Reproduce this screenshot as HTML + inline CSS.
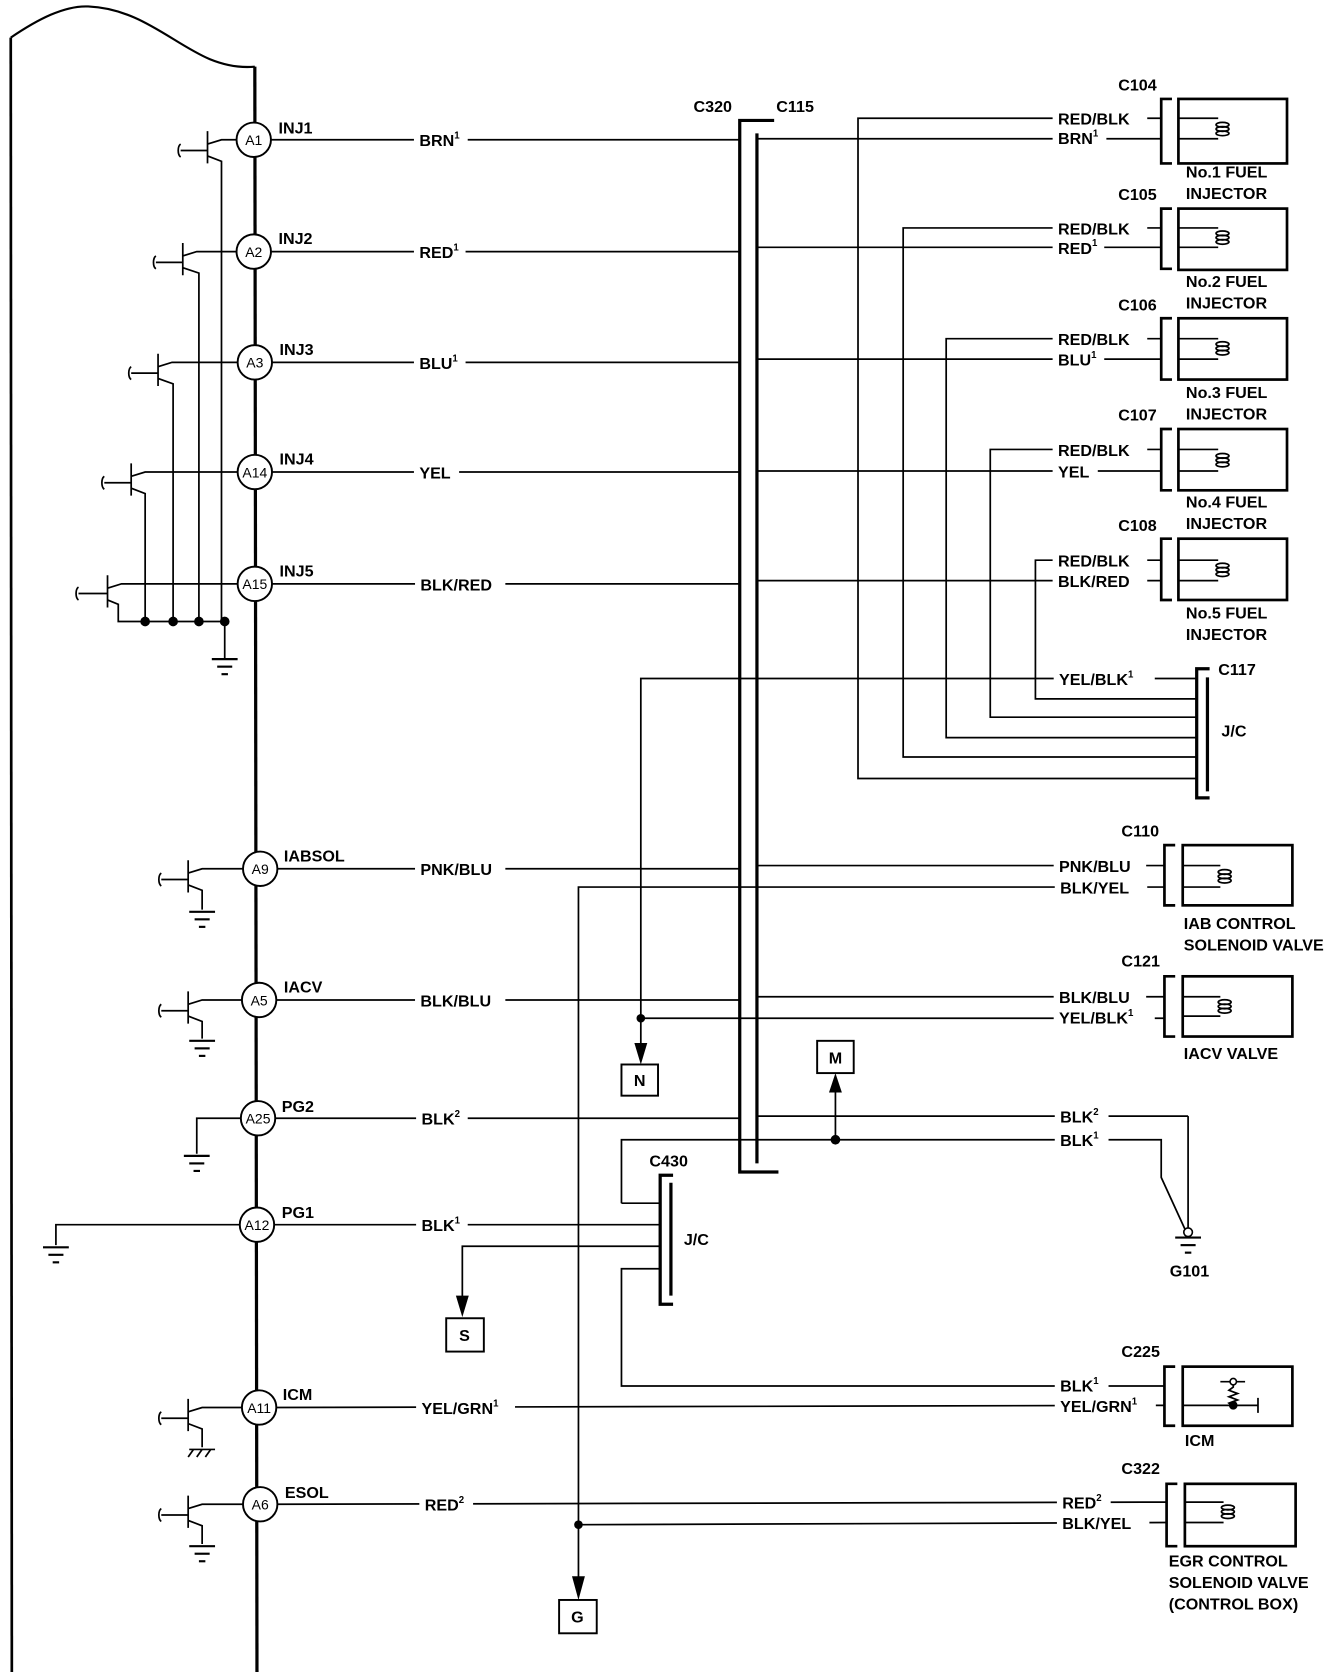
<!DOCTYPE html>
<html><head><meta charset="utf-8"><style>
html,body{margin:0;padding:0;background:#fff}
svg{display:block}
text{font-family:"Liberation Sans",Arial,sans-serif;font-weight:bold;font-size:15px;fill:#000}
.p{font-size:13px;font-weight:normal}
</style></head><body>
<svg width="1344" height="1672" viewBox="0 0 1250 1555" preserveAspectRatio="none" xmlns="http://www.w3.org/2000/svg">
<defs>
<g id="coil" fill="none" stroke="#000" stroke-width="1.6"><ellipse cx="0" cy="-4" rx="6" ry="2.2"/><ellipse cx="0" cy="0" rx="6" ry="2.2"/><ellipse cx="0" cy="4" rx="6" ry="2.2"/></g>
<g id="gnd" stroke="#000" stroke-width="2"><line x1="-12" y1="0" x2="12" y2="0"/><line x1="-7" y1="7" x2="7" y2="7"/><line x1="-3" y1="14" x2="3" y2="14"/></g>
</defs>
<g fill="none" stroke="#000" stroke-width="1.6">
<path d="M10,35 C35,18 60,5 82,6 C130,8 160,40 195,55 C212,62 226,63 237,62" stroke-width="2"/>
<line x1="10" y1="35" x2="11" y2="1555" stroke-width="2.5"/>
<line x1="237" y1="62" x2="239" y2="1555" stroke-width="3"/>

<polyline points="720,112 688,112 688,1090 724,1090" stroke-width="3"/>
<line x1="704" y1="124" x2="704" y2="1082" stroke-width="3"/>

<line x1="252" y1="130" x2="688" y2="130"/>
<line x1="252" y1="234" x2="688" y2="234"/>
<line x1="253" y1="337" x2="688" y2="337"/>
<line x1="253" y1="439" x2="688" y2="439"/>
<line x1="253" y1="543" x2="688" y2="543"/>
<line x1="258" y1="808" x2="688" y2="808"/>
<line x1="257" y1="930" x2="688" y2="930"/>
<line x1="256" y1="1040" x2="688" y2="1040"/>
<line x1="255" y1="1139" x2="614" y2="1139"/>
<line x1="257" y1="1309" x2="1083" y2="1307"/>
<line x1="258" y1="1399" x2="1085" y2="1397"/>

<line x1="704" y1="129" x2="1080" y2="129"/>
<line x1="704" y1="230" x2="1080" y2="230"/>
<line x1="704" y1="334" x2="1080" y2="334"/>
<line x1="704" y1="438" x2="1080" y2="438"/>
<line x1="704" y1="540" x2="1080" y2="540"/>
<line x1="704" y1="805" x2="1083" y2="805"/>
<line x1="704" y1="927" x2="1083" y2="927"/>
<line x1="704" y1="1038" x2="1105" y2="1038"/>
<polyline points="1105,1038 1105,1143"/>
<polyline points="578,1119 578,1060 1080,1060 1080,1095 1102,1143"/>

<polyline points="1080,110 798,110 798,724 1113,724"/>
<polyline points="1080,212 840,212 840,704 1113,704"/>
<polyline points="1080,315 880,315 880,686 1113,686"/>
<polyline points="1080,418 921,418 921,667 1113,667"/>
<polyline points="1080,521 963,521 963,650 1113,650"/>
<polyline points="1113,631 596,631 596,975"/>
<polyline points="1083,947 596,947"/>
<polyline points="1125,622 1113,622 1113,742 1125,742" stroke-width="3"/>
<line x1="1123" y1="630" x2="1123" y2="736" stroke-width="3"/>

<polyline points="1083,825 538,825 538,1472"/>
<polyline points="1085,1416 538,1418"/>

<line x1="777" y1="1060" x2="777" y2="1010"/>

<polyline points="626,1093 614,1093 614,1213 626,1213" stroke-width="3"/>
<line x1="624" y1="1100" x2="624" y2="1205" stroke-width="3"/>
<line x1="578" y1="1119" x2="614" y2="1119"/>
<polyline points="614,1159 430,1159 430,1210"/>
<polyline points="614,1180 578,1180 578,1289 1083,1289"/>

<g stroke-width="2.5">
<polyline points="1090,92 1080,92 1080,152 1090,152"/><rect x="1096" y="92" width="101" height="60"/>
<polyline points="1090,194 1080,194 1080,250 1090,250"/><rect x="1096" y="194" width="101" height="57"/>
<polyline points="1090,296 1080,296 1080,353 1090,353"/><rect x="1096" y="296" width="101" height="57"/>
<polyline points="1090,399 1080,399 1080,456 1090,456"/><rect x="1096" y="399" width="101" height="57"/>
<polyline points="1090,501 1080,501 1080,558 1090,558"/><rect x="1096" y="501" width="101" height="57"/>
<polyline points="1093,786 1083,786 1083,842 1093,842"/><rect x="1100" y="786" width="102" height="56"/>
<polyline points="1093,908 1083,908 1083,964 1093,964"/><rect x="1100" y="908" width="102" height="56"/>
<polyline points="1093,1271 1083,1271 1083,1326 1093,1326"/><rect x="1100" y="1271" width="102" height="55"/>
<polyline points="1095,1380 1085,1380 1085,1438 1095,1438"/><rect x="1102" y="1380" width="103" height="58"/>
</g>
<path d="M1096,110H1133M1096,129H1133 M1096,212H1133M1096,230H1133 M1096,315H1133M1096,334H1133 M1096,418H1133M1096,438H1133 M1096,521H1133M1096,540H1133 M1100,805H1135M1100,825H1135 M1100,927H1135M1100,945H1135 M1102,1397H1138M1102,1416H1138"/>
<path d="M1100,1307H1170M1170,1300V1314M1135,1285H1158M1147,1285V1290l-4,3 8,3-8,3 8,3-8,3 4,3V1307"/>
</g>
<g>
<use href="#coil" x="1137" y="120"/><use href="#coil" x="1137" y="221"/><use href="#coil" x="1137" y="324"/><use href="#coil" x="1137" y="428"/><use href="#coil" x="1137" y="530"/>
<use href="#coil" x="1139" y="815"/><use href="#coil" x="1139" y="936"/><use href="#coil" x="1142" y="1406"/>
</g>
<circle cx="1147" cy="1285" r="3" fill="#fff" stroke="#000" stroke-width="1.5"/>
<circle cx="1147" cy="1307" r="4" fill="#000"/>

<g fill="#000">
<circle cx="596" cy="947" r="4"/><circle cx="777" cy="1060" r="4.5"/><circle cx="538" cy="1418" r="4"/>
<circle cx="135" cy="578" r="4.5"/><circle cx="161" cy="578" r="4.5"/><circle cx="185" cy="578" r="4.5"/><circle cx="209" cy="578" r="4.5"/>
<polygon points="590,970 602,970 596,990"/>
<polygon points="771,1016 783,1016 777,998"/>
<polygon points="424,1205 436,1205 430,1225"/>
<polygon points="532,1466 544,1466 538,1488"/>
</g>
<g fill="#fff" stroke="#000" stroke-width="1.8">
<rect x="578" y="990" width="34" height="29"/><rect x="760" y="968" width="34" height="30"/>
<rect x="415" y="1226" width="35" height="31"/><rect x="520" y="1488" width="35" height="31"/>
</g>

<use href="#gnd" x="1105" y="1151"/>
<circle cx="1105" cy="1146" r="4" fill="#fff" stroke="#000" stroke-width="1.5"/>

<g fill="none" stroke="#000" stroke-width="1.6">
<path d="M193,122V152M168,140H193M193,134L206,130H222M193,145L206,150V578"/>
<path d="M170,226V256M145,244H170M170,238L183,234H222M170,249L185,254V578"/>
<path d="M147,329V359M122,347H147M147,341L160,337H222M147,352L161,357V578"/>
<path d="M122,431V461M97,449H122M122,443L135,439H222M122,454L135,459V578"/>
<path d="M100,535V565M73,552H100M100,547L113,543H222M100,558L110,562V578H209"/>
<line x1="209" y1="578" x2="209" y2="612"/>
<path d="M168,134c-3,2-3,10,0,12M145,238c-3,2-3,10,0,12M122,341c-3,2-3,10,0,12M97,443c-3,2-3,10,0,12M73,546c-3,2-3,10,0,12"/>
<path d="M175,800V830M150,818H175M175,812L188,808H226M175,823L188,828V846"/>
<path d="M175,922V952M150,940H175M175,934L188,930H225M175,945L188,950V966"/>
<path d="M175,1301V1331M150,1319H175M175,1313L188,1309H225M175,1324L188,1329V1346"/>
<path d="M175,1391V1421M150,1409H175M175,1403L188,1399H226M175,1414L188,1419V1436"/>
<path d="M150,812c-3,2-3,10,0,12M150,934c-3,2-3,10,0,12M150,1313c-3,2-3,10,0,12M150,1403c-3,2-3,10,0,12"/>
<path d="M224,1040H183V1073M223,1139H52V1158"/>
<path d="M176,1348H200M180,1348l-5,7M188,1348l-5,7M196,1348l-5,7"/>
</g>
<use href="#gnd" x="209" y="613"/><use href="#gnd" x="188" y="848"/><use href="#gnd" x="188" y="968"/>
<use href="#gnd" x="183" y="1075"/><use href="#gnd" x="52" y="1160"/><use href="#gnd" x="188" y="1438"/>

<g fill="#fff" stroke="#000" stroke-width="1.8">
<circle cx="236" cy="130" r="16"/><circle cx="236" cy="234" r="16"/><circle cx="237" cy="337" r="16"/>
<circle cx="237" cy="439" r="16"/><circle cx="237" cy="543" r="16"/><circle cx="242" cy="808" r="16"/>
<circle cx="241" cy="930" r="16"/><circle cx="240" cy="1040" r="16"/><circle cx="239" cy="1139" r="16"/>
<circle cx="241" cy="1309" r="16"/><circle cx="242" cy="1399" r="16"/>
</g>
<g text-anchor="middle">
<text x="236" y="135" class="p">A1</text><text x="236" y="239" class="p">A2</text><text x="237" y="342" class="p">A3</text>
<text x="237" y="444" class="p">A14</text><text x="237" y="548" class="p">A15</text><text x="242" y="813" class="p">A9</text>
<text x="241" y="935" class="p">A5</text><text x="240" y="1045" class="p">A25</text><text x="239" y="1144" class="p">A12</text>
<text x="241" y="1314" class="p">A11</text><text x="242" y="1404" class="p">A6</text>
</g>

<text x="259" y="124">INJ1</text><text x="259" y="227">INJ2</text><text x="260" y="330">INJ3</text>
<text x="260" y="432">INJ4</text><text x="260" y="536">INJ5</text><text x="264" y="801">IABSOL</text>
<text x="264" y="923">IACV</text><text x="262" y="1034">PG2</text><text x="262" y="1133">PG1</text>
<text x="263" y="1302">ICM</text><text x="265" y="1393">ESOL</text>

<!-- white gaps behind wire labels -->
<g fill="#fff">
<rect x="385" y="122" width="50" height="16"/><rect x="385" y="226" width="48" height="16"/>
<rect x="385" y="329" width="48" height="16"/><rect x="385" y="431" width="42" height="16"/>
<rect x="386" y="535" width="84" height="16"/><rect x="386" y="800" width="84" height="16"/>
<rect x="386" y="922" width="84" height="16"/><rect x="387" y="1032" width="48" height="16"/>
<rect x="387" y="1131" width="48" height="16"/><rect x="387" y="1301" width="92" height="16"/>
<rect x="390" y="1391" width="50" height="16"/>
<rect x="979" y="102" width="88" height="16"/><rect x="979" y="120" width="50" height="16"/>
<rect x="979" y="204" width="88" height="16"/><rect x="979" y="222" width="48" height="16"/>
<rect x="979" y="307" width="88" height="16"/><rect x="979" y="326" width="48" height="16"/>
<rect x="979" y="410" width="88" height="16"/><rect x="979" y="430" width="42" height="16"/>
<rect x="979" y="513" width="88" height="16"/><rect x="979" y="532" width="88" height="16"/>
<rect x="980" y="623" width="94" height="16"/>
<rect x="980" y="797" width="86" height="16"/><rect x="981" y="817" width="86" height="16"/>
<rect x="980" y="919" width="86" height="16"/><rect x="980" y="938" width="94" height="16"/>
<rect x="981" y="1030" width="50" height="16"/><rect x="981" y="1052" width="50" height="16"/>
<rect x="981" y="1280" width="50" height="16"/><rect x="981" y="1299" width="94" height="16"/>
<rect x="983" y="1389" width="50" height="16"/><rect x="983" y="1408" width="86" height="16"/>
</g>
<text x="390" y="136">BRN<tspan dy="-7" font-size="9">1</tspan></text>
<text x="390" y="240">RED<tspan dy="-7" font-size="9">1</tspan></text>
<text x="390" y="343">BLU<tspan dy="-7" font-size="9">1</tspan></text>
<text x="390" y="445">YEL</text>
<text x="391" y="549">BLK/RED</text>
<text x="391" y="814">PNK/BLU</text>
<text x="391" y="936">BLK/BLU</text>
<text x="392" y="1046">BLK<tspan dy="-7" font-size="9">2</tspan></text>
<text x="392" y="1145">BLK<tspan dy="-7" font-size="9">1</tspan></text>
<text x="392" y="1315">YEL/GRN<tspan dy="-7" font-size="9">1</tspan></text>
<text x="395" y="1405">RED<tspan dy="-7" font-size="9">2</tspan></text>
<text x="984" y="116">RED/BLK</text><text x="984" y="134">BRN<tspan dy="-7" font-size="9">1</tspan></text>
<text x="984" y="218">RED/BLK</text><text x="984" y="236">RED<tspan dy="-7" font-size="9">1</tspan></text>
<text x="984" y="321">RED/BLK</text><text x="984" y="340">BLU<tspan dy="-7" font-size="9">1</tspan></text>
<text x="984" y="424">RED/BLK</text><text x="984" y="444">YEL</text>
<text x="984" y="527">RED/BLK</text><text x="984" y="546">BLK/RED</text>
<text x="985" y="637">YEL/BLK<tspan dy="-7" font-size="9">1</tspan></text>
<text x="985" y="811">PNK/BLU</text><text x="986" y="831">BLK/YEL</text>
<text x="985" y="933">BLK/BLU</text><text x="985" y="952">YEL/BLK<tspan dy="-7" font-size="9">1</tspan></text>
<text x="986" y="1044">BLK<tspan dy="-7" font-size="9">2</tspan></text>
<text x="986" y="1066">BLK<tspan dy="-7" font-size="9">1</tspan></text>
<text x="986" y="1294">BLK<tspan dy="-7" font-size="9">1</tspan></text>
<text x="986" y="1313">YEL/GRN<tspan dy="-7" font-size="9">1</tspan></text>
<text x="988" y="1403">RED<tspan dy="-7" font-size="9">2</tspan></text>
<text x="988" y="1422">BLK/YEL</text>

<text x="645" y="104">C320</text><text x="722" y="104">C115</text>
<text x="1040" y="84">C104</text><text x="1040" y="186">C105</text><text x="1040" y="289">C106</text>
<text x="1040" y="391">C107</text><text x="1040" y="494">C108</text>
<text x="1133" y="628">C117</text><text x="1136" y="685">J/C</text>
<text x="1043" y="778">C110</text><text x="1043" y="899">C121</text>
<text x="604" y="1085">C430</text><text x="636" y="1158">J/C</text>
<text x="1088" y="1187">G101</text>
<text x="1043" y="1262">C225</text><text x="1043" y="1371">C322</text>
<text x="1103" y="165">No.1 FUEL</text><text x="1103" y="185">INJECTOR</text>
<text x="1103" y="267">No.2 FUEL</text><text x="1103" y="287">INJECTOR</text>
<text x="1103" y="370">No.3 FUEL</text><text x="1103" y="390">INJECTOR</text>
<text x="1103" y="472">No.4 FUEL</text><text x="1103" y="492">INJECTOR</text>
<text x="1103" y="575">No.5 FUEL</text><text x="1103" y="595">INJECTOR</text>
<text x="1101" y="864">IAB CONTROL</text><text x="1101" y="884">SOLENOID VALVE</text>
<text x="1101" y="985">IACV VALVE</text>
<text x="1102" y="1345">ICM</text>
<text x="1087" y="1457">EGR CONTROL</text><text x="1087" y="1477">SOLENOID VALVE</text><text x="1087" y="1497">(CONTROL BOX)</text>
<g text-anchor="middle">
<text x="595" y="1010">N</text><text x="777" y="989">M</text><text x="432" y="1247">S</text><text x="537" y="1509">G</text>
</g>
</svg>
</body></html>
